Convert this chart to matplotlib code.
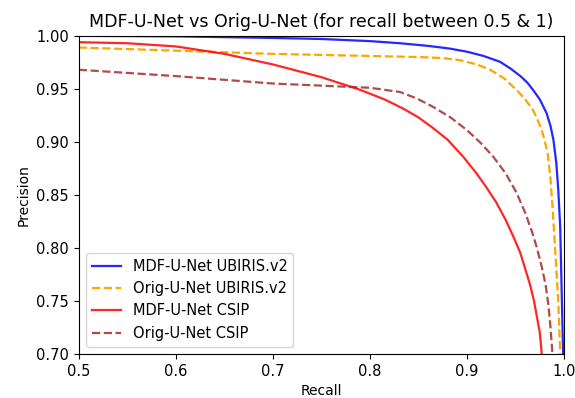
import numpy as np
import matplotlib.pyplot as plt

plt.rcParams['figure.figsize'] = [5.75, 3.98]
plt.rcParams['font.size'] = 10.5

# MDF-U-Net UBIRIS.v2
rec_mdf_ub = [0.5, 0.6, 0.7, 0.75, 0.8, 0.831, 0.86, 0.882, 0.9, 0.917, 0.934, 0.945, 0.955, 0.962, 0.968,
              0.975, 0.982, 0.986, 0.989, 0.992, 0.994, 0.996, 0.997, 0.998, 0.999]
prec_mdf_ub = [1.0, 0.9995, 0.998, 0.997, 0.995, 0.993, 0.9905, 0.988, 0.985, 0.981, 0.9755, 0.969, 0.962, 0.956, 0.949,
               0.94, 0.927, 0.915, 0.902, 0.88, 0.855, 0.82, 0.78, 0.74, 0.70]

# Orig-U-Net UBIRIS.v2
rec_orig_ub = [0.5, 0.6, 0.7, 0.8, 0.85, 0.875, 0.893, 0.91, 0.924, 0.938, 0.951, 0.96, 0.968, 0.974, 0.978,
               0.983, 0.986, 0.988, 0.99, 0.992, 0.994, 0.996]
prec_orig_ub = [0.989, 0.986, 0.983, 0.981, 0.980, 0.979, 0.977, 0.973, 0.968, 0.96, 0.949, 0.94, 0.93, 0.918, 0.908,
                0.89, 0.865, 0.84, 0.81, 0.78, 0.75, 0.70]

# MDF-U-Net CSIP
rec_mdf_csip = [0.5, 0.55, 0.6, 0.65, 0.7, 0.75, 0.79, 0.815, 0.835, 0.85, 0.865, 0.88, 0.896, 0.91, 0.92, 0.93, 0.94,
                0.948, 0.955, 0.96, 0.965, 0.969, 0.972, 0.975, 0.977]
prec_mdf_csip = [0.994, 0.993, 0.99, 0.983, 0.973, 0.961, 0.949, 0.94, 0.931, 0.923, 0.913, 0.902, 0.886, 0.87, 0.857, 0.843, 0.826,
                 0.81, 0.795, 0.78, 0.765, 0.75, 0.735, 0.72, 0.70]

# Orig-U-Net CSIP
rec_orig_csip = [0.5, 0.6, 0.7, 0.8, 0.831, 0.848, 0.865, 0.883, 0.9, 0.914, 0.927, 0.94, 0.951, 0.96, 0.967,
                 0.972, 0.977, 0.981, 0.984, 0.986, 0.988]
prec_orig_csip = [0.968, 0.962, 0.955, 0.951, 0.947, 0.941, 0.933, 0.923, 0.911, 0.899, 0.886, 0.87, 0.852, 0.833, 0.815,
                  0.8, 0.782, 0.765, 0.745, 0.725, 0.70]

fig, ax = plt.subplots()
fig.subplots_adjust(left=0.137, right=0.981, top=0.910, bottom=0.111)

ax.plot(rec_mdf_ub, prec_mdf_ub, color='blue', lw=1.6, alpha=0.85, label='MDF-U-Net UBIRIS.v2')
ax.plot(rec_orig_ub, prec_orig_ub, color='orange', lw=1.6, ls='--', label='Orig-U-Net UBIRIS.v2')
ax.plot(rec_mdf_csip, prec_mdf_csip, color='red', lw=1.6, alpha=0.85, label='MDF-U-Net CSIP')
ax.plot(rec_orig_csip, prec_orig_csip, color='brown', lw=1.6, ls='--', alpha=0.85, label='Orig-U-Net CSIP')

ax.set_xlim(0.5, 1.0)
ax.set_ylim(0.70, 1.00)
ax.set_xticks([0.5, 0.6, 0.7, 0.8, 0.9, 1.0])
ax.set_xticklabels(['0.5', '0.6', '0.7', '0.8', '0.9', '1.0'])
ax.set_yticks([0.70, 0.75, 0.80, 0.85, 0.90, 0.95, 1.00])
ax.set_yticklabels(['0.70', '0.75', '0.80', '0.85', '0.90', '0.95', '1.00'])
ax.set_xlabel('Recall', fontsize=10)
ax.set_ylabel('Precision', fontsize=10)
ax.set_title('MDF-U-Net vs Orig-U-Net (for recall between 0.5 & 1)', fontsize=12.5)
ax.legend(loc='lower left')

plt.savefig('out.png', dpi=100)
